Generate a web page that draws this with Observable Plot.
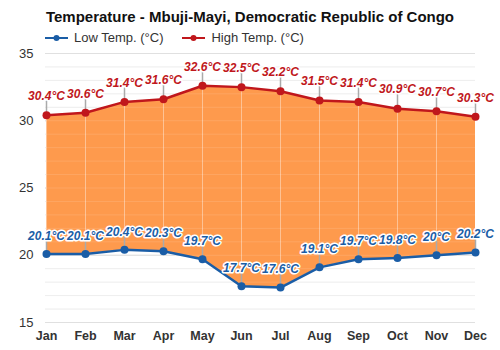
<!DOCTYPE html>
<html>
<head>
<meta charset="utf-8">
<script src="https://cdn.jsdelivr.net/npm/d3@7"></script>
<script src="https://cdn.jsdelivr.net/npm/@observablehq/plot@0.6"></script>
<style>
  html, body { margin: 0; padding: 0; background: #ffffff; width: 500px; height: 350px; overflow: hidden; font-family: "Liberation Sans", Arial, sans-serif; }
  #wrap { position: relative; width: 500px; height: 350px; }
  #title { position: absolute; top: 7px; left: 0; width: 500px; text-align: center; font-weight: bold; font-size: 15px; color: #111; line-height: 20px; }
  #legend { position: absolute; top: 30px; left: 45px; font-size: 13px; color: #333; line-height: 16px; display: flex; align-items: center; }
  .item { display: flex; align-items: center; }
  .item + .item { margin-left: 19px; }
  .item svg { margin-right: 6px; }
  #chart { position: absolute; top: 40px; left: 0; }
</style>
</head>
<body>
<div id="wrap">
  <div id="title"></div>
  <div id="legend"></div>
  <div id="chart"></div>
</div>
<script>
const titleText = "Temperature - Mbuji-Mayi, Democratic Republic of Congo";
const months = ["Jan","Feb","Mar","Apr","May","Jun","Jul","Aug","Sep","Oct","Nov","Dec"];
const highTemps = [30.4, 30.6, 31.4, 31.6, 32.6, 32.5, 32.2, 31.5, 31.4, 30.9, 30.7, 30.3];
const lowTemps  = [20.1, 20.1, 20.4, 20.3, 19.7, 17.7, 17.6, 19.1, 19.7, 19.8, 20.0, 20.2];
const yTicks = [15, 20, 25, 30, 35];
const seriesNames = ["Low Temp. (°C)", "High Temp. (°C)"];

const highColor = "#c0171c";
const lowColor = "#1a5da6";
const fillColor = "#fe9a4d";

document.getElementById("title").textContent = titleText;
const legend = document.getElementById("legend");
[[seriesNames[0], lowColor], [seriesNames[1], highColor]].forEach(([name, c]) => {
  const it = document.createElement("div");
  it.className = "item";
  it.innerHTML = `<svg width="23" height="10"><line x1="0" y1="5" x2="23" y2="5" stroke="${c}" stroke-width="2"/><circle cx="11.5" cy="5" r="3" fill="${c}"/></svg><span>${name}</span>`;
  legend.appendChild(it);
});

const data = months.map((m, i) => ({month: m, high: highTemps[i], low: lowTemps[i]}));
const fmt = v => `${v}°C`;
const minor = d3.range(15, 36);
const spike = { draw(context, l) { context.moveTo(0, 0); context.lineTo(0, -l); } };

const chart = Plot.plot({
  width: 500,
  height: 310,
  marginTop: 13,
  marginBottom: 28,
  marginLeft: 45,
  marginRight: 25,
  style: { fontFamily: "'Liberation Sans', Arial, sans-serif", background: "transparent", overflow: "visible" },
  x: { type: "point", domain: months, padding: 0, label: null },
  y: { domain: [15, 35], label: null, ticks: yTicks },
  marks: [
    Plot.ruleY(minor, { stroke: "#ececec", strokeWidth: 1 }),
    Plot.ruleY(yTicks, { stroke: "#dcdcdc", strokeWidth: 1 }),
    Plot.areaY(data, { x: "month", y1: "low", y2: "high", fill: fillColor }),
    Plot.ruleY(minor, { stroke: "#ffffff", strokeOpacity: 0.12 }),
    Plot.ruleX(data, { x: "month", y1: "low", y2: "high", stroke: "#ffffff", strokeOpacity: 0.4 }),
    Plot.vector(data, { x: "month", y: "high", length: 14, rotate: 0, anchor: "start", shape: spike, stroke: "#aaaaaa", strokeWidth: 1.5 }),
    Plot.vector(data, { x: "month", y: "low", length: 14, rotate: 0, anchor: "start", shape: spike, stroke: "#aaaaaa", strokeWidth: 1.5 }),
    Plot.line(data, { x: "month", y: "high", stroke: highColor, strokeWidth: 2.5 }),
    Plot.dot(data, { x: "month", y: "high", fill: highColor, r: 4 }),
    Plot.line(data, { x: "month", y: "low", stroke: lowColor, strokeWidth: 2.5 }),
    Plot.dot(data, { x: "month", y: "low", fill: lowColor, r: 4 }),
    Plot.text(data, { x: "month", y: "high", text: d => fmt(d.high), dy: -19, fill: highColor, fontWeight: "bold", fontStyle: "italic", fontSize: 12, stroke: "white", strokeWidth: 3 }),
    Plot.text(data, { x: "month", y: "low", text: d => fmt(d.low), dy: -18, fill: lowColor, fontWeight: "bold", fontStyle: "italic", fontSize: 12, stroke: "white", strokeWidth: 3 }),
    Plot.axisY({ ticks: yTicks, tickSize: 0, tickPadding: 12, fontSize: 13, fill: "#333", label: null }),
    Plot.axisX({ tickSize: 0, tickPadding: 9, fontSize: 12.5, fontWeight: "bold", fill: "#333", label: null })
  ]
});
document.getElementById("chart").appendChild(chart);
</script>
</body>
</html>
